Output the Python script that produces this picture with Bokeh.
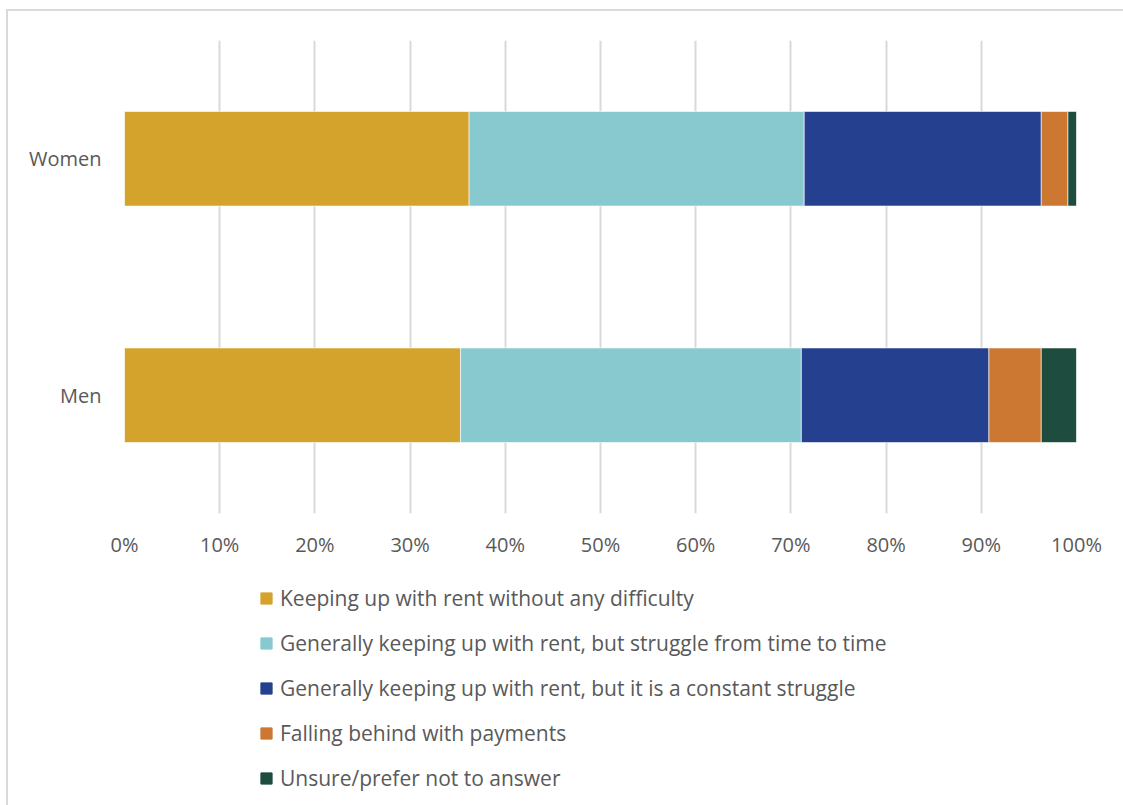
from bokeh.plotting import figure
from bokeh.layouts import column
from bokeh.models import (Legend, LegendItem, FactorRange, NumeralTickFormatter,
                          FixedTicker, InlineStyleSheet)
from bokeh.embed import file_html
from bokeh.resources import INLINE

groups = ["Men", "Women"]
series = [
    "Keeping up with rent without any difficulty",
    "Generally keeping up with rent, but struggle from time to time",
    "Generally keeping up with rent, but it is a constant struggle",
    "Falling behind with payments",
    "Unsure/prefer not to answer",
]
keys = ["s1", "s2", "s3", "s4", "s5"]
s1 = [0.353, 0.362]
s2 = [0.358, 0.352]
s3 = [0.197, 0.249]
s4 = [0.055, 0.028]
s5 = [0.037, 0.009]
colors = ["#D4A32B", "#88C9CF", "#24408E", "#CC7832", "#1E4D40"]
ticks = [0, 0.1, 0.2, 0.3, 0.4, 0.5, 0.6, 0.7, 0.8, 0.9, 1.0]

data = dict(groups=groups, s1=s1, s2=s2, s3=s3, s4=s4, s5=s5)

FONT = "Open Sans"
TXT = "#595959"

p = figure(width=1123, height=570, y_range=FactorRange(*groups, range_padding=0),
           x_range=(0, 1), output_backend="svg", toolbar_location=None,
           min_border_left=124, min_border_right=47, min_border_top=40,
           min_border_bottom=57, background_fill_alpha=0, border_fill_alpha=0)

renderers = p.hbar_stack(keys, y="groups", height=0.4, color=colors, source=data,
                         line_color="white", line_width=0.6)

p.xaxis.ticker = FixedTicker(ticks=ticks)
p.xaxis.formatter = NumeralTickFormatter(format="0%")
for ax in (p.xaxis[0], p.yaxis[0]):
    ax.axis_line_color = None
    ax.major_tick_line_color = None
    ax.minor_tick_line_color = None
    ax.major_label_text_font = FONT
    ax.major_label_text_font_size = "20px"
    ax.major_label_text_color = TXT
p.xaxis.major_label_standoff = 11
p.yaxis.major_label_standoff = 17

p.xgrid.ticker = FixedTicker(ticks=ticks)
p.xgrid.grid_line_color = "#D9D9D9"
p.xgrid.grid_line_width = 2
p.ygrid.grid_line_color = None
p.outline_line_color = None

# legend figure (holds only the legend; its swatch renderers sit outside the view)
p2 = figure(width=1123, height=235, x_range=(0, 1), y_range=(0, 1),
            output_backend="svg", toolbar_location=None,
            x_axis_type=None, y_axis_type=None, min_border=0,
            background_fill_alpha=0, border_fill_alpha=0)
p2.outline_line_color = None
p2.xgrid.grid_line_color = None
p2.ygrid.grid_line_color = None
leg_renderers = [p2.hbar(y=[-5], left=[-5], right=[-4], height=0.1, color=c) for c in colors]
items = [LegendItem(label=s, renderers=[r]) for s, r in zip(series, leg_renderers)]
legend = Legend(items=items, orientation="vertical", location=(135, 12),
                label_text_font=FONT, label_text_font_size="21px", label_text_color=TXT,
                glyph_width=14, glyph_height=14, label_height=30, spacing=15,
                label_standoff=7, padding=0, margin=0, border_line_color=None,
                background_fill_alpha=0)
p2.add_layout(legend, "center")

css = InlineStyleSheet(css="""
:host { position: relative; }
:host::after {
  content: '';
  position: absolute;
  left: 6px; top: 9px;
  width: 1140px; height: 820px;
  box-sizing: border-box;
  border: 2px solid #D9D9D9;
  pointer-events: none;
}
""")
layout = column(p, p2, stylesheets=[css], spacing=0)

open("out.html", "w").write(file_html(layout, INLINE))
